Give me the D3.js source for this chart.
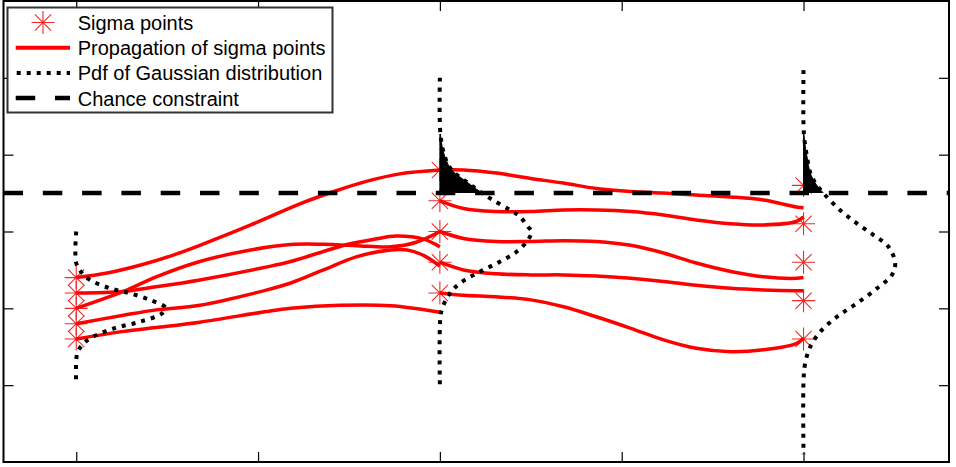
<!DOCTYPE html>
<html>
<head>
<meta charset="utf-8">
<script src="https://cdn.jsdelivr.net/npm/d3@7"></script>
<style>
  html, body { margin: 0; padding: 0; background: #fff; }
  svg { display: block; }
</style>
</head>
<body>
<svg id="chart" width="956" height="467"></svg>
<script>
// ---- data ----------------------------------------------------------
// time steps at which sigma points are generated
const stepTimes = [0, 2, 4];
// sigma points (state value) at each time step
const sigmaStep0 = [-0.6, -0.8, -1.0, -1.2, -1.4];
const sigmaStep2 = [0.8, 0.4, 0.0, -0.4, -0.8];
const sigmaStep4 = [0.6, 0.1, -0.4, -0.9, -1.4];

// chance constraint level and upper end of the shaded violation tail
const constraintLevel = 0.5;
const tailLimit = 1.27;

const xTickValues = [0, 1, 2, 3, 4];
const yTickValues = [-2, -1, 0, 1, 2];

// propagation of the step-0 sigma points up to step 2, as [t, value]
const propagationA = [
  [[0, -0.6], [0.17, -0.54], [0.35, -0.44], [0.53, -0.31], [0.68, -0.18], [0.96, 0.085], [1.23, 0.36], [1.43, 0.53], [1.6, 0.655], [1.78, 0.75], [2, 0.8]],
  [[0, -0.8], [0.26, -0.78], [0.44, -0.72], [0.68, -0.63], [1.05, -0.46], [1.18, -0.39], [1.36, -0.26], [1.49, -0.17], [1.64, -0.1], [1.76, -0.06], [1.91, -0.1], [2, -0.2]],
  [[0, -1.0], [0.26, -0.78], [0.44, -0.59], [0.68, -0.39], [0.96, -0.24], [1.18, -0.17], [1.36, -0.167], [1.54, -0.185], [1.73, -0.2], [1.87, -0.14], [2, 0]],
  [[0, -1.2], [0.26, -1.09], [0.44, -1.02], [0.68, -0.96], [1.05, -0.76], [1.18, -0.67], [1.36, -0.5], [1.54, -0.33], [1.73, -0.24], [1.82, -0.24], [1.91, -0.31], [2, -0.45]],
  [[0, -1.4], [0.26, -1.3], [0.44, -1.25], [0.68, -1.18], [1.05, -1.04], [1.18, -1.0], [1.45, -0.96], [1.73, -0.966], [2, -1.05]]
];

// propagation of the step-2 sigma points up to step 4 on a shared time grid
const timesB = [2, 2.13, 2.31, 2.5, 2.68, 2.86, 3.05, 3.23, 3.41, 3.6, 3.78, 3.96, 4];
const propagationB = [
  [0.8, 0.8, 0.76, 0.69, 0.63, 0.56, 0.52, 0.5, 0.475, 0.45, 0.41, 0.32, 0.31],
  [0.4, 0.3, 0.26, 0.26, 0.28, 0.28, 0.26, 0.215, 0.15, 0.1, 0.085, 0.13, 0.19],
  [0, -0.09, -0.13, -0.13, -0.12, -0.13, -0.18, -0.28, -0.41, -0.52, -0.59, -0.61, -0.6],
  [-0.4, -0.5, -0.55, -0.565, -0.565, -0.58, -0.61, -0.65, -0.7, -0.74, -0.76, -0.77, -0.77],
  [-0.8, -0.83, -0.85, -0.89, -0.98, -1.11, -1.26, -1.41, -1.52, -1.565, -1.54, -1.46, -1.39]
];

// Gaussian pdf at each step: [value, density] (density drawn along the time axis)
const pdfStep0 = [[0, 0], [-0.41, 0], [-0.544, 0.033], [-0.632, 0.077], [-0.74, 0.187], [-0.805, 0.297], [-0.892, 0.407],
  [-0.99, 0.49], [-1.065, 0.473], [-1.174, 0.352], [-1.26, 0.209], [-1.39, 0.077], [-1.478, 0.033], [-1.582, 0.0055], [-2.0, 0]];
const pdfStep2 = [[2.0, 0], [1.27, 0.003], [0.974, 0.027], [0.8, 0.065], [0.65, 0.145], [0.501, 0.231], [0.41, 0.291], [0.28, 0.385],
  [0.193, 0.44], [0.063, 0.484], [0, 0.504], [-0.111, 0.484], [-0.263, 0.422], [-0.393, 0.33], [-0.523, 0.22], [-0.674, 0.11],
  [-0.805, 0.055], [-0.979, 0.016], [-1.109, 0.003], [-2.0, 0]];
const pdfStep4 = [[2.1, 0], [1.27, 0.002], [0.974, 0.019], [0.762, 0.037], [0.632, 0.064], [0.497, 0.11], [0.28, 0.2], [0.107, 0.293],
  [-0.046, 0.385], [-0.198, 0.467], [-0.414, 0.504], [-0.566, 0.486], [-0.74, 0.404], [-0.935, 0.293], [-1.109, 0.184],
  [-1.305, 0.092], [-1.5, 0.037], [-1.716, 0.009], [-1.934, 0], [-2.9, 0]];

const legendLabels = ["Sigma points", "Propagation of sigma points", "Pdf of Gaussian distribution", "Chance constraint"];

// ---- layout ----------------------------------------------------------
const svg = d3.select("#chart");
const plot = { left: 3.5, right: 949, top: 1, bottom: 462 };

const x = d3.scaleLinear().domain([-0.4, 4.8]).range([plot.left, plot.right]);
const y = d3.scaleLinear().domain([-3, 3]).range([plot.bottom, plot.top]);

const RED = "#ff0000";
const STAR_RED = "#f22a2a";
const DOT_DASH = "4,6";
const CONSTRAINT_DASH = "19.5,19.8";

// ---- ticks (inward, on all four sides, no labels) ---------------------
function tickStyle(g) {
  g.select(".domain").remove();
  g.selectAll(".tick line").attr("stroke", "#000").attr("stroke-width", 1.2);
}
svg.append("g").attr("transform", `translate(0,${plot.bottom})`)
  .call(d3.axisTop(x).tickValues(xTickValues).tickFormat("").tickSizeInner(10).tickSizeOuter(0)).call(tickStyle);
svg.append("g").attr("transform", `translate(0,${plot.top})`)
  .call(d3.axisBottom(x).tickValues(xTickValues).tickFormat("").tickSizeInner(10).tickSizeOuter(0)).call(tickStyle);
svg.append("g").attr("transform", `translate(${plot.left},0)`)
  .call(d3.axisRight(y).tickValues(yTickValues).tickFormat("").tickSizeInner(10).tickSizeOuter(0)).call(tickStyle);
svg.append("g").attr("transform", `translate(${plot.right},0)`)
  .call(d3.axisLeft(y).tickValues(yTickValues).tickFormat("").tickSizeInner(10).tickSizeOuter(0)).call(tickStyle);

// ---- sigma point markers ---------------------------------------------
function starPath(r) {
  const d = r * Math.SQRT1_2;
  return `M${-r},0L${r},0M0,${-r}L0,${r}M${-d},${-d}L${d},${d}M${-d},${d}L${d},${-d}`;
}
const sigmaSets = [sigmaStep0, sigmaStep2, sigmaStep4];
const sigmaPoints = sigmaSets.flatMap((vals, i) => vals.map(v => ({ t: stepTimes[i], v })));
svg.append("g").selectAll("path").data(sigmaPoints).join("path")
  .attr("transform", d => `translate(${x(d.t)},${y(d.v)})`)
  .attr("d", starPath(11.5))
  .attr("fill", "none").attr("stroke", STAR_RED).attr("stroke-width", 1.1);

// ---- propagation trajectories ----------------------------------------
const traj = d3.line().x(d => x(d[0])).y(d => y(d[1])).curve(d3.curveCatmullRom.alpha(0.5));
const allTraj = propagationA.concat(propagationB.map(vals => vals.map((v, i) => [timesB[i], v])));
svg.append("g").selectAll("path").data(allTraj).join("path")
  .attr("d", traj)
  .attr("fill", "none").attr("stroke", RED).attr("stroke-width", 3.5)
  .attr("stroke-linecap", "butt");

// ---- pdfs: dotted outline plus shaded tail above the constraint ----------
const pdfs = [pdfStep0, pdfStep2, pdfStep4].map((pts, i) => ({ t: stepTimes[i], pts }));

svg.append("defs").append("clipPath").attr("id", "tailClip")
  .append("rect")
  .attr("x", plot.left).attr("width", plot.right - plot.left)
  .attr("y", y(tailLimit)).attr("height", y(constraintLevel) - y(tailLimit));

const pdfCurve = d3.curveCatmullRom.alpha(0.5);
svg.append("g").attr("clip-path", "url(#tailClip)")
  .selectAll("path").data(pdfs).join("path")
  .attr("d", p => d3.area()
    .x0(() => x(p.t)).x1(d => x(p.t + d[1])).y(d => y(d[0])).curve(pdfCurve)(p.pts))
  .attr("fill", "#000").attr("stroke", "#000").attr("stroke-width", 1);

svg.append("g").selectAll("path").data(pdfs).join("path")
  .attr("d", p => d3.line().x(d => x(p.t + d[1])).y(d => y(d[0])).curve(pdfCurve)(p.pts))
  .attr("fill", "none").attr("stroke", "#000").attr("stroke-width", 4)
  .attr("stroke-dasharray", DOT_DASH);

// ---- chance constraint ------------------------------------------------
svg.append("line")
  .attr("x1", plot.left).attr("x2", plot.right)
  .attr("y1", y(constraintLevel)).attr("y2", y(constraintLevel))
  .attr("stroke", "#000").attr("stroke-width", 4.5).attr("stroke-dasharray", CONSTRAINT_DASH);

// ---- frame ------------------------------------------------------------
svg.append("rect")
  .attr("x", plot.left).attr("y", plot.top)
  .attr("width", plot.right - plot.left).attr("height", plot.bottom - plot.top)
  .attr("fill", "none").attr("stroke", "#000").attr("stroke-width", 2);

// ---- legend -------------------------------------------------------------
const legend = svg.append("g");
legend.append("rect").attr("x", 7.5).attr("y", 7.5).attr("width", 325).attr("height", 105)
  .attr("fill", "#fff").attr("stroke", "#333").attr("stroke-width", 2);
const rowY = i => 22.5 + i * 25.2;
const symX0 = 15.7, symX1 = 70;

legend.append("path").attr("transform", `translate(43,${rowY(0)})`).attr("d", starPath(11.5))
  .attr("fill", "none").attr("stroke", STAR_RED).attr("stroke-width", 1.1);
legend.append("line").attr("x1", symX0).attr("x2", symX1).attr("y1", rowY(1)).attr("y2", rowY(1))
  .attr("stroke", RED).attr("stroke-width", 4);
legend.append("line").attr("x1", symX0 + 1).attr("x2", symX1).attr("y1", rowY(2)).attr("y2", rowY(2))
  .attr("stroke", "#000").attr("stroke-width", 4).attr("stroke-dasharray", DOT_DASH);
legend.append("line").attr("x1", symX0).attr("x2", symX1).attr("y1", rowY(3)).attr("y2", rowY(3))
  .attr("stroke", "#000").attr("stroke-width", 4.5).attr("stroke-dasharray", CONSTRAINT_DASH);

legend.selectAll("text").data(legendLabels).join("text")
  .attr("x", 77.7).attr("y", (d, i) => rowY(i) + 7.5)
  .attr("font-family", "'Liberation Sans', Arial, sans-serif").attr("font-size", 20)
  .attr("fill", "#000").text(d => d);
</script>
</body>
</html>
